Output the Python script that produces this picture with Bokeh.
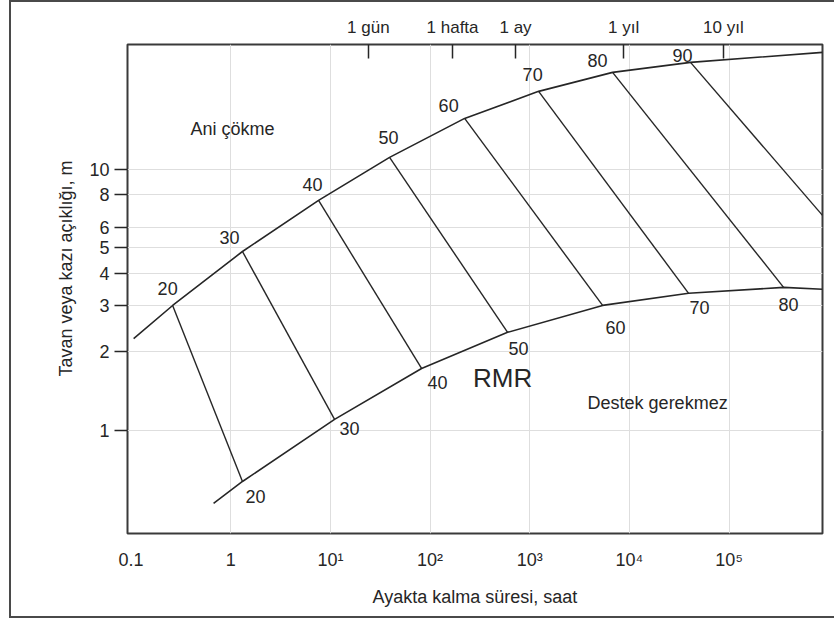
from bokeh.plotting import figure
from bokeh.models import LogAxis, FixedTicker, ColumnDataSource, Title
from bokeh.core.properties import value
from bokeh.embed import file_html
from bokeh.resources import INLINE

FONT = "Liberation Sans"
INK = "#262626"
GRID = "#dedede"

# RMR classes, one iso-line each
rmr_classes = [20, 30, 40, 50, 60, 70, 80, 90]

# Upper boundary ("Ani çökme"): stand-up time (h) and unsupported span (m)
upper_time = [0.106, 0.261, 1.31, 7.60, 39.2, 222, 1227, 6776, 41000, 8.65e5]
upper_span = [2.25, 3.01, 4.84, 7.59, 11.08, 15.61, 19.8, 23.4, 25.55, 27.9]

# Lower boundary ("Destek gerekmez")
lower_time = [0.672, 1.31, 11.0, 82.1, 599, 5378, 39240, 3.52e5, 8.65e5]
lower_span = [0.528, 0.640, 1.105, 1.73, 2.377, 3.012, 3.35, 3.531, 3.47]

# lower end of the RMR 90 line, where it leaves the chart
rmr90_end_time = 8.65e5
rmr90_end_span = 6.65

# axis ticks
time_ticks = [0.1, 1, 10, 100, 1000, 1e4, 1e5]
time_labels = ["0.1", "1", "10\u00b9", "10\u00b2", "10\u00b3", "10\u2074", "10\u2075"]
span_ticks = [1, 2, 3, 4, 5, 6, 8, 10]
period_hours = [24, 168, 720, 8760, 87600]
period_labels = ["1 gün", "1 hafta", "1 ay", "1 yıl", "10 yıl"]

# region captions
caption_text = ["Ani çökme", "RMR", "Destek gerekmez"]
caption_time = [1.04, 534, 19170]
caption_span = [14.17, 1.585, 1.271]
caption_size = ["18px", "26px", "18px"]

# label nudges (screen px) for the RMR numbers
upper_dx = [-5, -13, -6, -1, -16, -6, -15, -8]
upper_dy = [-17, -14, -16, -20, -13, -17, -12, -7]
lower_dx = [13, 15, 16, 11, 13, 11, 5]
lower_dy = [15, 9, 14, 16, 22, 14, 17]

p = figure(
    width=823, height=614,
    x_axis_type="log", y_axis_type="log",
    x_range=(0.092, 8.65e5), y_range=(0.405, 29.9),
    output_backend="svg", toolbar_location=None,
    min_border_left=116, min_border_right=12,
    min_border_top=42, min_border_bottom=83,
)
# thin frame around the whole figure, drawn just outside the canvas
p.styles = {
    "margin-left": "11px",
    "margin-top": "2px",
    "box-shadow": "0 0 0 2px #4a4a4a",
}
p.background_fill_color = "white"
p.border_fill_color = "white"
p.outline_line_color = "#3a3a3a"
p.outline_line_width = 2

# grid
p.xgrid.ticker = FixedTicker(ticks=time_ticks[1:])
p.ygrid.ticker = FixedTicker(ticks=span_ticks)
p.xgrid.grid_line_color = GRID
p.ygrid.grid_line_color = GRID
p.xgrid.grid_line_width = 1
p.ygrid.grid_line_width = 1

# bottom axis: stand-up time
xa = p.xaxis[0]
xa.ticker = FixedTicker(ticks=time_ticks)
xa.major_label_overrides = {t: s for t, s in zip(time_ticks, time_labels)}
xa.major_tick_in = 0
xa.major_tick_out = 0
xa.minor_tick_line_color = None
xa.axis_line_color = None
xa.major_label_standoff = 16
xa.major_label_text_font = FONT
xa.major_label_text_font_size = "18px"
xa.major_label_text_color = INK
xa.axis_label = "Ayakta kalma süresi, saat"
xa.axis_label_text_font = FONT
xa.axis_label_text_font_size = "18px"
xa.axis_label_text_font_style = "normal"
xa.axis_label_text_color = INK
xa.axis_label_standoff = 14

# left axis: span
ya = p.yaxis[0]
ya.ticker = FixedTicker(ticks=span_ticks)
ya.major_label_overrides = {t: str(t) for t in span_ticks}
ya.major_tick_in = 0
ya.major_tick_out = 13
ya.major_tick_line_color = INK
ya.major_tick_line_width = 1.5
ya.minor_tick_line_color = None
ya.axis_line_color = None
ya.major_label_standoff = 5
ya.major_label_text_font = FONT
ya.major_label_text_font_size = "18px"
ya.major_label_text_color = INK

# vertical axis title, starting a bit above the bottom of the frame
p.add_layout(Title(
    text="Tavan veya kazı açıklığı, m", align="left", offset=157,
    standoff=21, text_font=FONT, text_font_size="18px",
    text_font_style="normal", text_color=INK,
), "left")

# top axis: calendar periods
top = LogAxis(ticker=FixedTicker(ticks=period_hours))
top.major_label_overrides = {t: s for t, s in zip(period_hours, period_labels)}
top.major_tick_in = 14
top.major_tick_out = 0
top.major_tick_line_color = INK
top.major_tick_line_width = 1.5
top.minor_tick_line_color = None
top.axis_line_color = None
top.major_label_standoff = 8
top.major_label_text_font = FONT
top.major_label_text_font_size = "17px"
top.major_label_text_color = INK
p.add_layout(top, "above")

# boundary curves
p.line(upper_time, upper_span, line_color=INK, line_width=1.6)
p.line(lower_time, lower_span, line_color=INK, line_width=1.6)

# RMR iso-lines between the two boundaries
top_t = upper_time[1:1 + len(rmr_classes)]
top_s = upper_span[1:1 + len(rmr_classes)]
bot_t = lower_time[1:1 + len(rmr_classes) - 1] + [rmr90_end_time]
bot_s = lower_span[1:1 + len(rmr_classes) - 1] + [rmr90_end_span]
p.multi_line(
    xs=[[a, b] for a, b in zip(top_t, bot_t)],
    ys=[[a, b] for a, b in zip(top_s, bot_s)],
    line_color=INK, line_width=1.4,
)

# RMR numbers along the upper boundary
up_src = ColumnDataSource(dict(
    x=top_t, y=top_s, t=[str(v) for v in rmr_classes],
    dx=upper_dx, dy=upper_dy,
))
p.text("x", "y", text="t", source=up_src, x_offset="dx", y_offset="dy",
       text_align="center", text_baseline="middle",
       text_font=value(FONT), text_font_size="18px", text_color=INK)

# RMR numbers along the lower boundary
lo_src = ColumnDataSource(dict(
    x=bot_t[:-1], y=bot_s[:-1], t=[str(v) for v in rmr_classes[:-1]],
    dx=lower_dx, dy=lower_dy,
))
p.text("x", "y", text="t", source=lo_src, x_offset="dx", y_offset="dy",
       text_align="center", text_baseline="middle",
       text_font=value(FONT), text_font_size="18px", text_color=INK)

# region captions
cap_src = ColumnDataSource(dict(
    x=caption_time, y=caption_span, t=caption_text, fs=caption_size,
))
p.text("x", "y", text="t", source=cap_src, text_font_size="fs",
       text_align="center", text_baseline="middle",
       text_font=value(FONT), text_color=INK)

open("out.html", "w").write(file_html(p, INLINE))
